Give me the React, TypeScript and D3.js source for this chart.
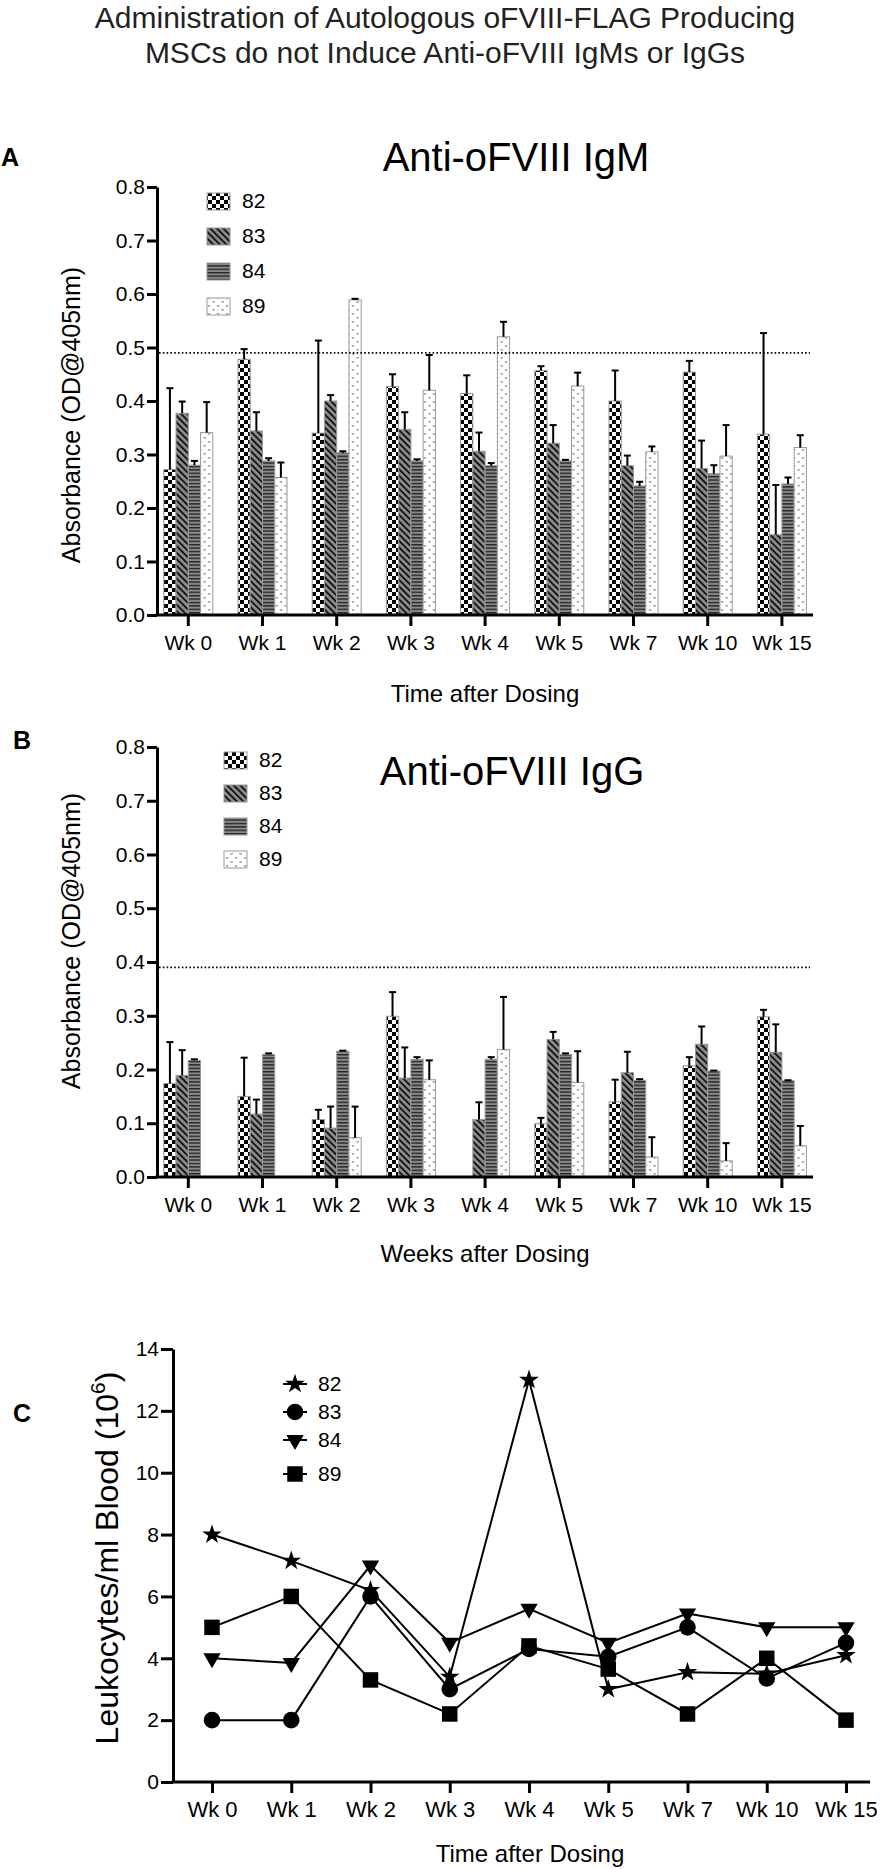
import React, { useEffect, useRef } from 'react';
import * as d3 from 'd3';

const weeks = ['Wk 0', 'Wk 1', 'Wk 2', 'Wk 3', 'Wk 4', 'Wk 5', 'Wk 7', 'Wk 10', 'Wk 15'];
const animals = ['82', '83', '84', '89'];

// Panel A - anti-oFVIII IgM (mean, SD)
const igm82 = [0.272, 0.478, 0.34, 0.427, 0.414, 0.457, 0.4, 0.454, 0.338];
const igm82Sd = [0.152, 0.019, 0.173, 0.023, 0.034, 0.008, 0.057, 0.021, 0.189];
const igm83 = [0.377, 0.344, 0.4, 0.347, 0.306, 0.321, 0.279, 0.274, 0.15];
const igm83Sd = [0.022, 0.035, 0.011, 0.032, 0.035, 0.034, 0.019, 0.052, 0.093];
const igm84 = [0.28, 0.288, 0.303, 0.288, 0.279, 0.288, 0.241, 0.264, 0.245];
const igm84Sd = [0.008, 0.005, 0.003, 0.003, 0.005, 0.002, 0.008, 0.016, 0.012];
const igm89 = [0.341, 0.257, 0.589, 0.42, 0.52, 0.428, 0.305, 0.297, 0.313];
const igm89Sd = [0.057, 0.028, 0.002, 0.066, 0.028, 0.025, 0.01, 0.058, 0.023];

// Panel B - anti-oFVIII IgG (mean, SD); null = no bar
const igg82 = [0.174, 0.15, 0.107, 0.299, null, 0.099, 0.14, 0.207, 0.298];
const igg82Sd = [0.077, 0.072, 0.018, 0.045, 0, 0.011, 0.041, 0.016, 0.013];
const igg83 = [0.189, 0.117, 0.091, 0.184, 0.107, 0.256, 0.194, 0.247, 0.232];
const igg83Sd = [0.047, 0.027, 0.04, 0.057, 0.032, 0.014, 0.039, 0.033, 0.052];
const igg84 = [0.217, 0.228, 0.234, 0.219, 0.219, 0.228, 0.18, 0.197, 0.179];
const igg84Sd = [0.002, 0.002, 0.001, 0.004, 0.004, 0.002, 0.002, 0.001, 0.001];
const igg89 = [null, null, 0.073, 0.181, 0.237, 0.176, 0.037, 0.03, 0.058];
const igg89Sd = [0, 0, 0.058, 0.036, 0.098, 0.058, 0.037, 0.033, 0.037];

// Panel C - leukocytes/ml blood (10^6)
const leuko82 = [8, 7.15, 6.2, 3.4, 13, 3.0, 3.55, 3.5, 4.1];
const leuko83 = [2, 2, 6, 3, 4.3, 4.05, 5, 3.35, 4.5];
const leuko84 = [4, 3.85, 7, 4.5, 5.6, 4.5, 5.45, 5.0, 5.0];
const leuko89 = [5, 6, 3.3, 2.2, 4.4, 3.65, 2.2, 4.0, 2.0];

const FONT = '"Liberation Sans", Arial, Helvetica, sans-serif';

type Series = { id: string; mean: (number | null)[]; sd: number[] };

interface BarPanel {
  series: Series[];
  top: number;
  bottom: number;
  cutoff: number;
  title: string;
  titleX: number;
  titleY: number;
  label: string;
  labelY: number;
  legendX: number;
  legendY: number;
  legendStep: number;
  xTitle: string;
  xTitleY: number;
  yTitleY: number;
}

const LEFT = 157;
const RIGHT = 813;

function drawBarPanel(svg: d3.Selection<SVGSVGElement, unknown, null, undefined>, p: BarPanel) {
  const g = svg.append('g');

  const x = d3.scaleBand<string>().domain(weeks).range([151.2, 819]);
  const xs = d3.scaleBand<string>().domain(animals).range([-24.5, 24.5]);
  const y = d3.scaleLinear().domain([0, 0.8]).range([p.bottom, p.top]);

  // bars
  p.series.forEach(s => {
    s.mean.forEach((m, i) => {
      if (m == null) return;
      const bx = (x(weeks[i]) as number) + x.bandwidth() / 2 + (xs(s.id) as number);
      g.append('rect')
        .attr('x', bx)
        .attr('y', y(m))
        .attr('width', xs.bandwidth())
        .attr('height', p.bottom - y(m))
        .attr('fill', `url(#pat-${s.id})`)
        .attr('stroke', '#9a9a9a')
        .attr('stroke-width', 1);
    });
  });

  // error bars (upper only)
  p.series.forEach(s => {
    s.mean.forEach((m, i) => {
      if (m == null || !s.sd[i]) return;
      const cx = (x(weeks[i]) as number) + x.bandwidth() / 2 + (xs(s.id) as number) + xs.bandwidth() / 2;
      const yt = y(m + s.sd[i]);
      g.append('line')
        .attr('x1', cx).attr('x2', cx)
        .attr('y1', y(m)).attr('y2', yt)
        .attr('stroke', '#000').attr('stroke-width', 2);
      g.append('line')
        .attr('x1', cx - 3.5).attr('x2', cx + 3.5)
        .attr('y1', yt).attr('y2', yt)
        .attr('stroke', '#000').attr('stroke-width', 2);
    });
  });

  // cut-off line
  g.append('line')
    .attr('x1', LEFT + 2).attr('x2', 810)
    .attr('y1', y(p.cutoff)).attr('y2', y(p.cutoff))
    .attr('stroke', '#000')
    .attr('stroke-width', 1.6)
    .attr('stroke-dasharray', '1.6 2.2');

  // axes
  const yAxis = g.append('g')
    .attr('transform', `translate(${LEFT},0)`)
    .call(d3.axisLeft(y)
      .tickValues(d3.range(0, 9).map(d => d / 10))
      .tickFormat(d3.format('.1f'))
      .tickSize(10)
      .tickSizeOuter(0)
      .tickPadding(2));
  yAxis.select('.domain').attr('stroke-width', 3);
  yAxis.selectAll('.tick line').attr('stroke-width', 3);
  yAxis.selectAll('text').attr('font-size', 21).attr('font-family', FONT).attr('fill', '#000');

  const xAxis = g.append('g')
    .attr('transform', `translate(0,${p.bottom})`)
    .call(d3.axisBottom(x).tickSize(11).tickSizeOuter(0).tickPadding(9));
  xAxis.select('.domain').remove();
  xAxis.selectAll('.tick line').attr('stroke-width', 3);
  xAxis.selectAll('text').attr('font-size', 21).attr('font-family', FONT).attr('fill', '#000');
  g.append('line')
    .attr('x1', LEFT - 1.5).attr('x2', RIGHT)
    .attr('y1', p.bottom).attr('y2', p.bottom)
    .attr('stroke', '#000').attr('stroke-width', 3);

  // titles
  g.append('text')
    .attr('x', p.titleX).attr('y', p.titleY)
    .attr('text-anchor', 'middle')
    .attr('font-family', FONT).attr('font-size', 40)
    .text(p.title);

  g.append('text')
    .attr('x', 485).attr('y', p.xTitleY)
    .attr('text-anchor', 'middle')
    .attr('font-family', FONT).attr('font-size', 24)
    .text(p.xTitle);

  g.append('text')
    .attr('transform', `translate(80,${p.yTitleY}) rotate(-90)`)
    .attr('text-anchor', 'middle')
    .attr('font-family', FONT).attr('font-size', 25)
    .text('Absorbance (OD@405nm)');

  g.append('text')
    .attr('x', p.label === 'A' ? 1 : 13).attr('y', p.labelY)
    .attr('font-family', FONT).attr('font-size', 25).attr('font-weight', 'bold')
    .text(p.label);

  // legend
  p.series.forEach((s, i) => {
    const ly = p.legendY + i * p.legendStep;
    g.append('rect')
      .attr('x', p.legendX).attr('y', ly - 15)
      .attr('width', 23).attr('height', 17)
      .attr('fill', `url(#pat-${s.id})`)
      .attr('stroke', '#9a9a9a').attr('stroke-width', 1);
    g.append('text')
      .attr('x', p.legendX + 35).attr('y', ly)
      .attr('font-family', FONT).attr('font-size', 21)
      .text(s.id);
  });
}

function drawLinePanel(svg: d3.Selection<SVGSVGElement, unknown, null, undefined>) {
  const g = svg.append('g');
  const left = 173;
  const bottom = 1782;
  const x = d3.scalePoint<string>().domain(weeks).range([212, 846]);
  const y = d3.scaleLinear().domain([0, 14]).range([bottom, 1349]);

  const series = [
    { id: '82', values: leuko82, shape: d3.symbolStar, size: 120, rot: 0 },
    { id: '83', values: leuko83, shape: d3.symbolCircle, size: 215, rot: 0 },
    { id: '84', values: leuko84, shape: d3.symbolTriangle, size: 130, rot: 180 },
    { id: '89', values: leuko89, shape: d3.symbolSquare, size: 240, rot: 0 },
  ];

  const line = d3.line<number>()
    .x((_, i) => x(weeks[i]) as number)
    .y(d => y(d));

  series.forEach(s => {
    g.append('path')
      .attr('d', line(s.values))
      .attr('fill', 'none')
      .attr('stroke', '#000')
      .attr('stroke-width', 2);
  });
  series.forEach(s => {
    const sym = d3.symbol().type(s.shape).size(s.size);
    s.values.forEach((v, i) => {
      g.append('path')
        .attr('d', sym())
        .attr('transform', `translate(${x(weeks[i])},${y(v)}) rotate(${s.rot})`)
        .attr('fill', '#000');
    });
  });

  const yAxis = g.append('g')
    .attr('transform', `translate(${left},0)`)
    .call(d3.axisLeft(y).tickValues(d3.range(0, 15, 2)).tickSize(12).tickSizeOuter(0).tickPadding(2));
  yAxis.select('.domain').attr('stroke-width', 3);
  yAxis.selectAll('.tick line').attr('stroke-width', 3);
  yAxis.selectAll('text').attr('font-size', 21).attr('font-family', FONT).attr('fill', '#000');

  const xAxis = g.append('g')
    .attr('transform', `translate(0,${bottom})`)
    .call(d3.axisBottom(x).tickSize(11).tickSizeOuter(0).tickPadding(8));
  xAxis.select('.domain').remove();
  xAxis.selectAll('.tick line').attr('stroke-width', 3);
  xAxis.selectAll('text').attr('font-size', 22).attr('font-family', FONT).attr('fill', '#000');
  g.append('line')
    .attr('x1', left - 1.5).attr('x2', 870)
    .attr('y1', bottom).attr('y2', bottom)
    .attr('stroke', '#000').attr('stroke-width', 3);

  // legend
  const legendRows = [1391, 1419, 1447, 1481];
  series.forEach((s, i) => {
    const cy = legendRows[i] - 7;
    g.append('line')
      .attr('x1', 283).attr('x2', 307)
      .attr('y1', cy).attr('y2', cy)
      .attr('stroke', '#000').attr('stroke-width', 2);
    g.append('path')
      .attr('d', d3.symbol().type(s.shape).size(s.size)())
      .attr('transform', `translate(295,${cy}) rotate(${s.rot})`)
      .attr('fill', '#000');
    g.append('text')
      .attr('x', 318).attr('y', legendRows[i])
      .attr('font-family', FONT).attr('font-size', 21)
      .text(s.id);
  });

  // titles
  const yt = g.append('text')
    .attr('transform', 'translate(118,1558) rotate(-90)')
    .attr('text-anchor', 'middle')
    .attr('font-family', FONT).attr('font-size', 32);
  yt.append('tspan').text('Leukocytes/ml Blood (10');
  yt.append('tspan').attr('dy', -13).attr('font-size', 21).text('6');
  yt.append('tspan').attr('dy', 13).text(')');

  g.append('text')
    .attr('x', 530).attr('y', 1862)
    .attr('text-anchor', 'middle')
    .attr('font-family', FONT).attr('font-size', 24)
    .text('Time after Dosing');

  g.append('text')
    .attr('x', 13).attr('y', 1422)
    .attr('font-family', FONT).attr('font-size', 25).attr('font-weight', 'bold')
    .text('C');
}

function addPatterns(svg: d3.Selection<SVGSVGElement, unknown, null, undefined>) {
  const defs = svg.append('defs');

  const checker = defs.append('pattern')
    .attr('id', 'pat-82').attr('patternUnits', 'userSpaceOnUse')
    .attr('width', 8).attr('height', 8);
  checker.append('rect').attr('width', 8).attr('height', 8).attr('fill', '#fff');
  checker.append('rect').attr('width', 4).attr('height', 4).attr('fill', '#000');
  checker.append('rect').attr('x', 4).attr('y', 4).attr('width', 4).attr('height', 4).attr('fill', '#000');

  const diag = defs.append('pattern')
    .attr('id', 'pat-83').attr('patternUnits', 'userSpaceOnUse')
    .attr('width', 4.6).attr('height', 4.6)
    .attr('patternTransform', 'rotate(-45)');
  diag.append('rect').attr('width', 4.6).attr('height', 4.6).attr('fill', '#8c8c8c');
  diag.append('rect').attr('width', 1.9).attr('height', 4.6).attr('fill', '#151515');

  const horiz = defs.append('pattern')
    .attr('id', 'pat-84').attr('patternUnits', 'userSpaceOnUse')
    .attr('width', 4).attr('height', 3.4);
  horiz.append('rect').attr('width', 4).attr('height', 3.4).attr('fill', '#8a8a8a');
  horiz.append('rect').attr('width', 4).attr('height', 1.4).attr('fill', '#262626');

  const dots = defs.append('pattern')
    .attr('id', 'pat-89').attr('patternUnits', 'userSpaceOnUse')
    .attr('width', 9).attr('height', 8);
  dots.append('rect').attr('width', 9).attr('height', 8).attr('fill', '#fff');
  dots.append('path')
    .attr('d', 'M1,1 l1.1,1.8 l1.1,-1.8 M5.5,5 l1.1,1.8 l1.1,-1.8')
    .attr('fill', 'none').attr('stroke', '#808080').attr('stroke-width', 0.9);
}

const App: React.FC = () => {
  const svgRef = useRef<SVGSVGElement | null>(null);

  useEffect(() => {
    const svg = d3.select(svgRef.current as SVGSVGElement);
    svg.selectAll('*').remove();
    addPatterns(svg);

    // main title
    const title = svg.append('text')
      .attr('text-anchor', 'middle')
      .attr('font-family', FONT).attr('font-size', 30).attr('fill', '#222');
    title.append('tspan').attr('x', 445).attr('y', 28).text('Administration of Autologous oFVIII-FLAG Producing');
    title.append('tspan').attr('x', 445).attr('y', 63).text('MSCs do not Induce Anti-oFVIII IgMs or IgGs');

    drawBarPanel(svg, {
      series: [
        { id: '82', mean: igm82, sd: igm82Sd },
        { id: '83', mean: igm83, sd: igm83Sd },
        { id: '84', mean: igm84, sd: igm84Sd },
        { id: '89', mean: igm89, sd: igm89Sd },
      ],
      top: 187,
      bottom: 615,
      cutoff: 0.49,
      title: 'Anti-oFVIII IgM',
      titleX: 516,
      titleY: 171,
      label: 'A',
      labelY: 166,
      legendX: 207,
      legendY: 208,
      legendStep: 35,
      xTitle: 'Time after Dosing',
      xTitleY: 702,
      yTitleY: 415,
    });

    drawBarPanel(svg, {
      series: [
        { id: '82', mean: igg82, sd: igg82Sd },
        { id: '83', mean: igg83, sd: igg83Sd },
        { id: '84', mean: igg84, sd: igg84Sd },
        { id: '89', mean: igg89, sd: igg89Sd },
      ],
      top: 747,
      bottom: 1177,
      cutoff: 0.39,
      title: 'Anti-oFVIII IgG',
      titleX: 512,
      titleY: 785,
      label: 'B',
      labelY: 749,
      legendX: 224,
      legendY: 767,
      legendStep: 33,
      xTitle: 'Weeks after Dosing',
      xTitleY: 1262,
      yTitleY: 941,
    });

    drawLinePanel(svg);
  }, []);

  return (
    <svg
      ref={svgRef}
      width={886}
      height={1869}
      style={{ position: 'absolute', left: 0, top: 0, background: '#fff' }}
    />
  );
};

export default App;
